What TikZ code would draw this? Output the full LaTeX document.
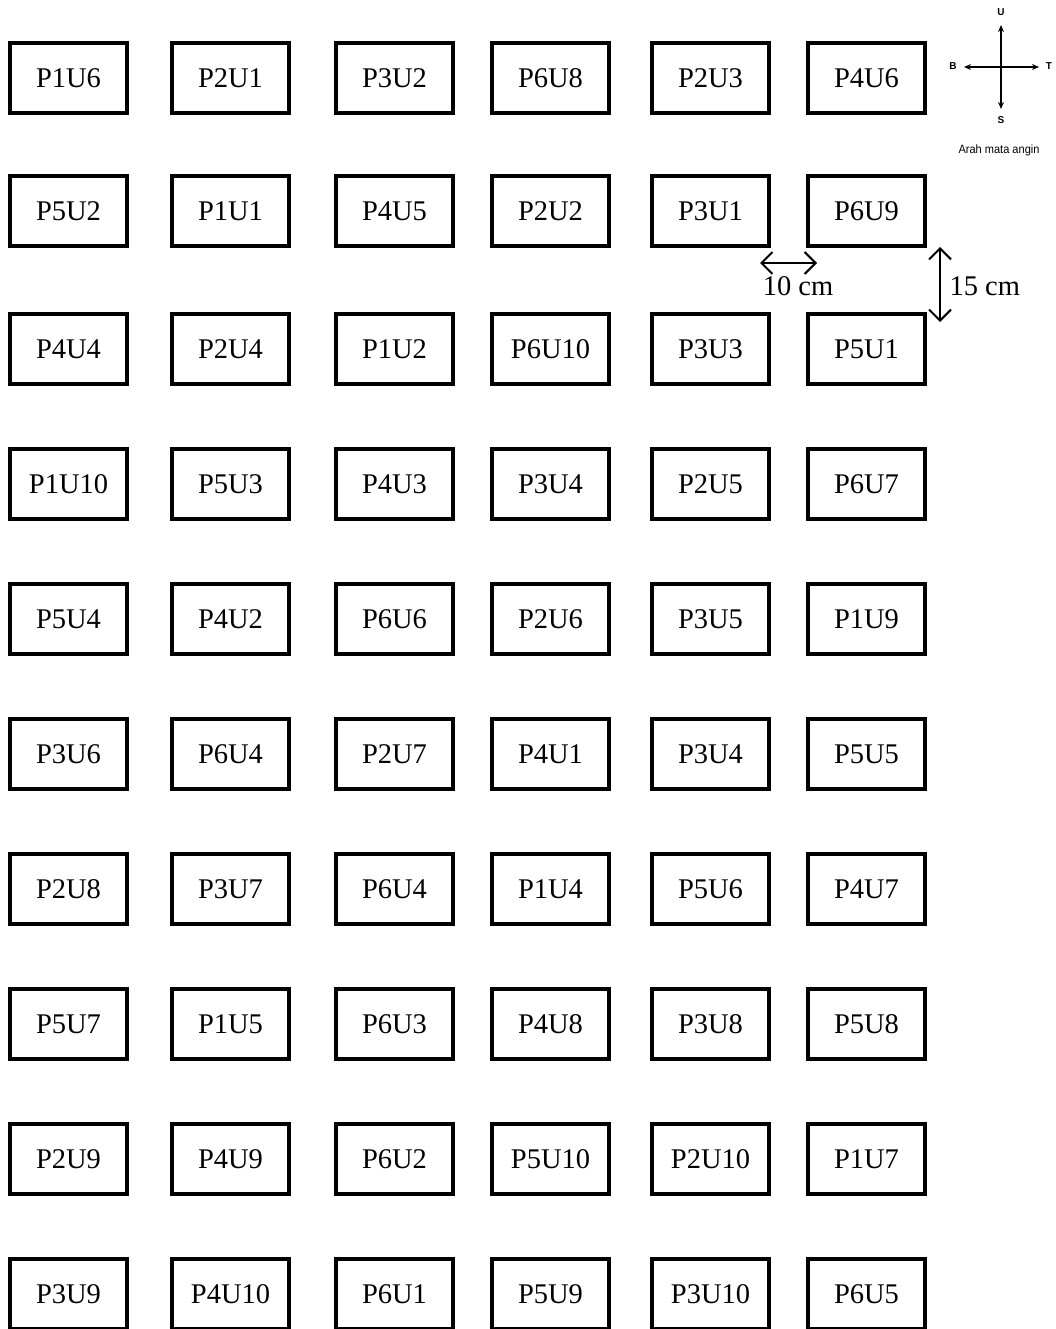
\documentclass[tikz,border=0pt]{standalone}
\usepackage{fontspec}
\setmainfont{Liberation Serif}
\setsansfont{Liberation Sans}
\usetikzlibrary{arrows.meta}
\tikzset{
  petak/.style={draw,line width=4.5pt,minimum width=117pt,minimum height=70pt,inner sep=0pt,font=\fontsize{28.5}{28.5}\selectfont},
  ukuran/.style={line width=2pt,{Straight Barb[length=11pt,width=22pt]}-{Straight Barb[length=11pt,width=22pt]}},
  mataangin/.style={line width=2pt,-{Stealth[length=7pt,width=6pt]}},
}

\begin{document}
\begin{tikzpicture}[x=1pt,y=-1pt]
\useasboundingbox (0,0) rectangle (1056,1329);
% petak percobaan
\foreach \yy/\baris [count=\r] in {78/{P1U6,P2U1,P3U2,P6U8,P2U3,P4U6},
  211/{P5U2,P1U1,P4U5,P2U2,P3U1,P6U9},
  349/{P4U4,P2U4,P1U2,P6U10,P3U3,P5U1},
  484/{P1U10,P5U3,P4U3,P3U4,P2U5,P6U7},
  619/{P5U4,P4U2,P6U6,P2U6,P3U5,P1U9},
  754/{P3U6,P6U4,P2U7,P4U1,P3U4,P5U5},
  889/{P2U8,P3U7,P6U4,P1U4,P5U6,P4U7},
  1024/{P5U7,P1U5,P6U3,P4U8,P3U8,P5U8},
  1159/{P2U9,P4U9,P6U2,P5U10,P2U10,P1U7},
  1294/{P3U9,P4U10,P6U1,P5U9,P3U10,P6U5}}
{
  \foreach \lbl [count=\c] in \baris {
    \pgfmathsetmacro{\xx}{{68.5,230.5,394.5,550.5,710.5,866.5}[\c-1]}
    \node[petak] (p\r-\c) at (\xx,\yy) {\lbl};
  }
}
% jarak antar petak
\coordinate (jkiri) at (760,263);
\coordinate (jkanan) at (817,263);
\draw[ukuran] (jkiri) -- (jkanan);
\node[font=\fontsize{28.5}{28.5}\selectfont] (tjarak) at (798,286) {10 cm};
\coordinate (jatas) at (940,247);
\coordinate (jbawah) at (940,322);
\draw[ukuran] (jatas) -- (jbawah);
\node[font=\fontsize{28.5}{28.5}\selectfont,anchor=west] (tjarak2) at (946,286) {15 cm};
% arah mata angin
\coordinate (pusat) at (1001,67);
\node[font=\sffamily\bfseries\fontsize{10}{10}\selectfont] (u) at (1001,12) {U};
\node[font=\sffamily\bfseries\fontsize{10}{10}\selectfont] (s) at (1001,120) {S};
\node[font=\sffamily\bfseries\fontsize{10}{10}\selectfont] (b) at (953,66) {B};
\node[font=\sffamily\bfseries\fontsize{10}{10}\selectfont] (t) at (1049,66) {T};
\draw[mataangin] (pusat) -- (1001,25);
\draw[mataangin] (pusat) -- (1001,109);
\draw[mataangin] (pusat) -- (964,67);
\draw[mataangin] (pusat) -- (1039,67);
\node[font=\sffamily\fontsize{12}{12}\selectfont,xscale=0.92] (ket) at (999,150) {Arah mata angin};
\end{tikzpicture}
\end{document}
